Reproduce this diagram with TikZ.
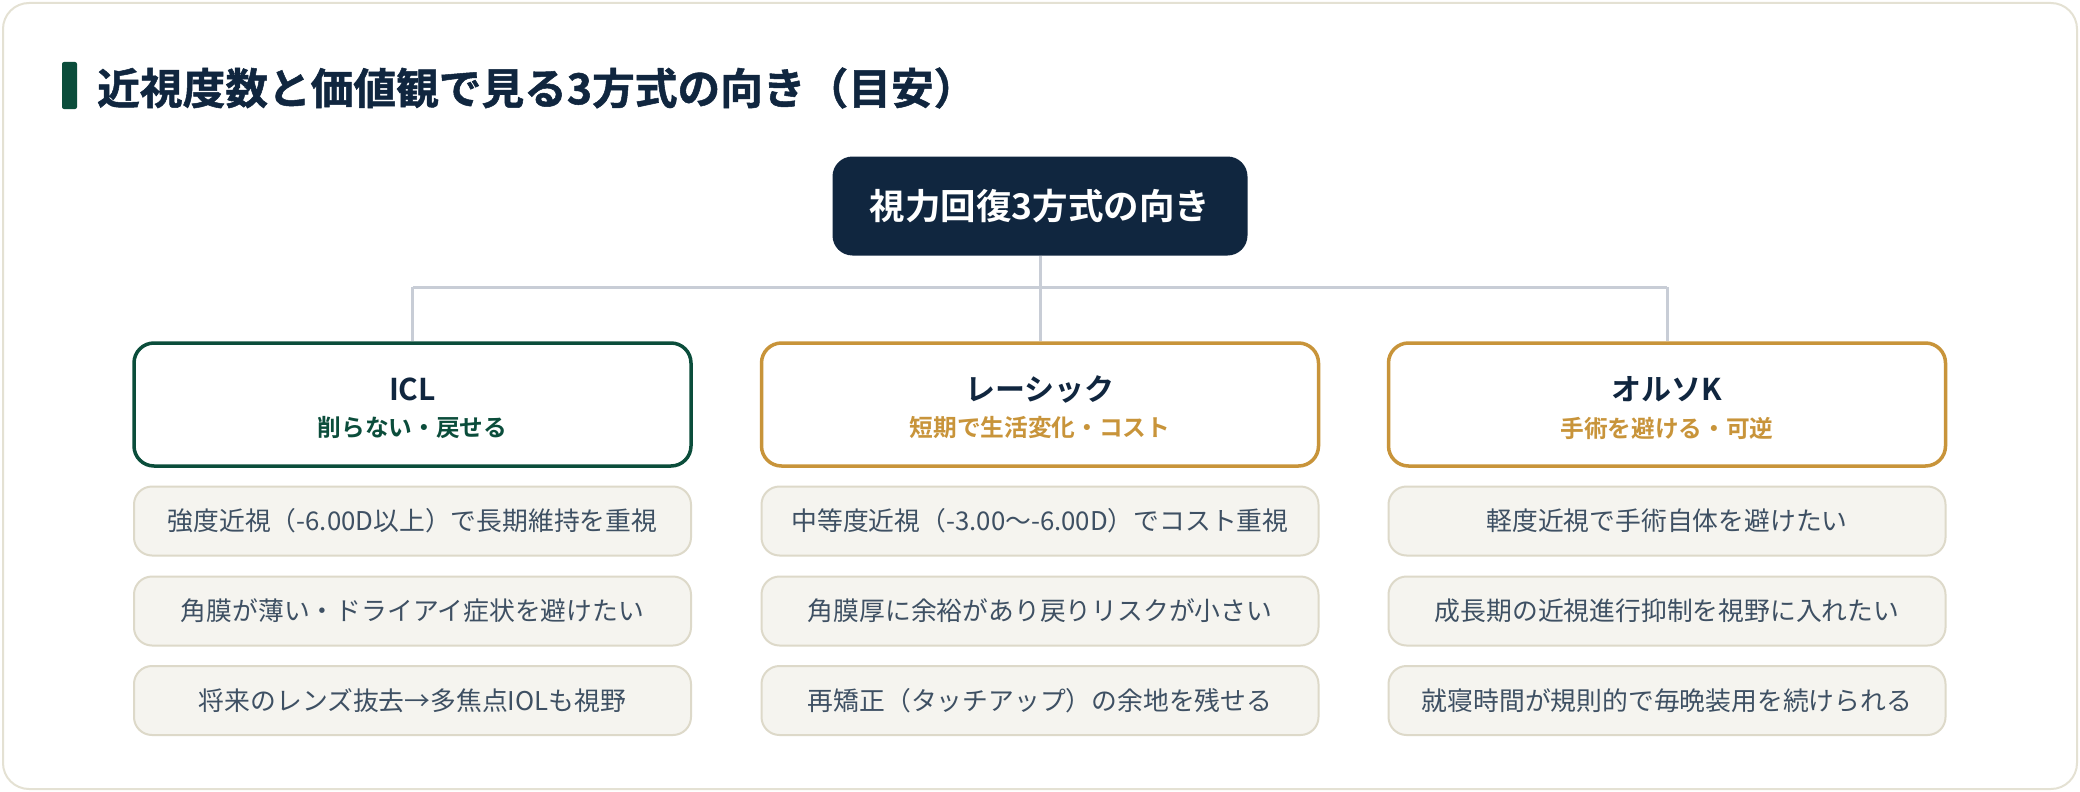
\documentclass[tikz,border=0pt]{standalone}
\usepackage{fontspec}
\setmainfont{Noto Sans CJK JP}[BoldFont={Noto Sans CJK JP Bold}]
\newfontfamily\heavyfont{Noto Sans CJK JP Bold}[FakeBold=1.2]
\definecolor{navy}{HTML}{10263F}
\definecolor{dgreen}{HTML}{0B4D3B}
\definecolor{gold}{HTML}{C8943A}
\definecolor{linegray}{HTML}{C8CDD6}
\definecolor{itemfill}{HTML}{F5F4EF}
\definecolor{itemdraw}{HTML}{DDD9C9}
\definecolor{itemtext}{HTML}{3E5063}
\definecolor{framedraw}{HTML}{E4E1D3}
\tikzset{
  rootbox/.style={fill=navy, rounded corners=20pt, minimum width=415pt, minimum height=99pt, inner sep=0pt, text=white, font=\fontsize{35.5}{42}\selectfont\bfseries},
  catbox/.style={draw=#1, line width=3.5pt, fill=white, rounded corners=20pt, minimum width=557pt, minimum height=123pt, inner sep=0pt},
  cattitle/.style={text=navy, font=\fontsize{30}{36}\selectfont\bfseries, inner sep=0pt},
  catsub/.style={text=#1, font=\fontsize{23.7}{28}\selectfont\bfseries, inner sep=0pt},
  itembox/.style={draw=itemdraw, line width=2pt, fill=itemfill, rounded corners=18pt, minimum width=557pt, minimum height=69pt, inner sep=0pt, text=itemtext, font=\fontsize{25.8}{30}\selectfont},
  conn/.style={draw=linegray, line width=3pt},
}
\begin{document}
\begin{tikzpicture}[x=1pt,y=-1pt]
\useasboundingbox (0,0) rectangle (2080,792);
\draw[draw=framedraw, line width=2pt, fill=white, rounded corners=26pt] (3,3) rectangle (2077,789);
% title
\fill[dgreen, rounded corners=2pt] (62,62) rectangle (77,109);
\node[anchor=west, text=navy, font=\fontsize{42.7}{50}\selectfont\heavyfont, inner sep=0pt] (title) at (97,88) {近視度数と価値観で見る3方式の向き（目安）};
% root
\node[rootbox] (root) at (1040,206) {視力回復3方式の向き};
\coordinate (j) at (1040,287);
\coordinate (jl) at (412.5,287);
\coordinate (jr) at (1667,287);
% connectors
\draw[conn] (root.south) -- (j);
\draw[conn] (jl) -- (jr);
% categories
\node[catbox=dgreen] (icl) at (412.5,404.5) {};
\node[catbox=gold] (lasik) at (1040,404.5) {};
\node[catbox=gold] (ortho) at (1667,404.5) {};
\draw[conn] (jl) -- (icl.north);
\draw[conn] (j) -- (lasik.north);
\draw[conn] (jr) -- (ortho.north);
\node[cattitle] (icl-t) at (412.5,389) {ICL};
\node[catsub=dgreen] (icl-s) at (412.5,428) {削らない・戻せる};
\node[cattitle] (lasik-t) at (1040,389) {レーシック};
\node[catsub=gold] (lasik-s) at (1040,428) {短期で生活変化・コスト};
\node[cattitle] (ortho-t) at (1667,389) {オルソK};
\node[catsub=gold] (ortho-s) at (1667,428) {手術を避ける・可逆};
% items
\node[itembox] (i1) at (412.5,521) {強度近視（-6.00D以上）で長期維持を重視};
\node[itembox] (i2) at (412.5,611) {角膜が薄い・ドライアイ症状を避けたい};
\node[itembox] (i3) at (412.5,700.5) {将来のレンズ抜去→多焦点IOLも視野};
\node[itembox] (l1) at (1040,521) {中等度近視（-3.00〜-6.00D）でコスト重視};
\node[itembox] (l2) at (1040,611) {角膜厚に余裕があり戻りリスクが小さい};
\node[itembox] (l3) at (1040,700.5) {再矯正（タッチアップ）の余地を残せる};
\node[itembox] (o1) at (1667,521) {軽度近視で手術自体を避けたい};
\node[itembox] (o2) at (1667,611) {成長期の近視進行抑制を視野に入れたい};
\node[itembox] (o3) at (1667,700.5) {就寝時間が規則的で毎晩装用を続けられる};
\end{tikzpicture}
\end{document}
